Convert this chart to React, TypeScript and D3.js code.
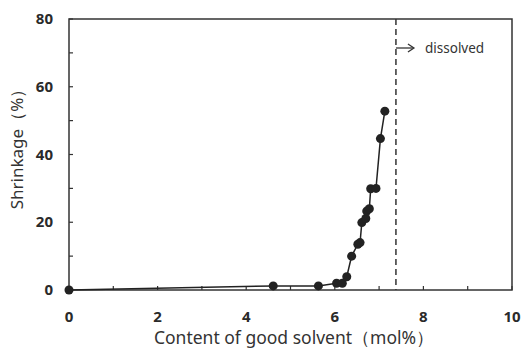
import React from 'react';
import * as d3 from 'd3';

// measured points (content mol%, shrinkage %)
const xValues = [0, 4.61, 5.63, 6.04, 6.17, 6.27, 6.38, 6.52, 6.57, 6.61, 6.7, 6.72, 6.78, 6.81, 6.93, 7.03, 7.13];
const yValues = [0, 1.2, 1.2, 2, 2, 3.9, 10, 13.5, 14, 19.9, 21.1, 23.3, 24, 29.9, 30, 44.7, 52.8];
const xTicks = [0, 1, 2, 3, 4, 5, 6, 7, 8, 9, 10];
const xLabels = [0, 2, 4, 6, 8, 10];
const yTicks = [0, 10, 20, 30, 40, 50, 60, 70, 80];
const yLabels = [0, 20, 40, 60, 80];
const dissolvedAt = 7.38;

export default function App() {
    const width = 527;
    const height = 351;
    const margin = { top: 19, right: 15, bottom: 61, left: 69 };

    const x = d3.scaleLinear().domain([0, 10]).range([margin.left, width - margin.right]);
    const y = d3.scaleLinear().domain([0, 80]).range([height - margin.bottom, margin.top]);

    const pts = xValues.map((v, i) => [v, yValues[i]] as [number, number]);
    const line = d3.line<[number, number]>().x(d => x(d[0])).y(d => y(d[1]));

    const ink = '#222';
    const font = "'Noto Sans', 'DejaVu Sans', sans-serif";

    return (
        <svg width={width} height={height} style={{ position: 'absolute', left: 0, top: 0, background: '#fff' }}>
            {/* frame */}
            <rect x={x(0)} y={y(80)} width={x(10) - x(0)} height={y(0) - y(80)} fill="none" stroke="#333" strokeWidth={1.5} />

            {/* ticks, inward */}
            {xTicks.map(t => (
                <line key={'xt' + t} x1={x(t)} x2={x(t)} y1={y(0)} y2={y(0) - 4} stroke="#333" strokeWidth={1.2} />
            ))}
            {yTicks.map(t => (
                <line key={'yt' + t} x1={x(0)} x2={x(0) + 4} y1={y(t)} y2={y(t)} stroke="#333" strokeWidth={1.2} />
            ))}

            {/* tick labels */}
            {xLabels.map(t => (
                <text key={'xl' + t} x={x(t)} y={y(0) + 32} textAnchor="middle" fontFamily={font} fontWeight="bold" fontSize={15} fill="#2a2a2a">{t}</text>
            ))}
            {yLabels.map(t => (
                <text key={'yl' + t} x={x(0) - 16} y={y(t) + 5} textAnchor="end" fontFamily={font} fontWeight="bold" fontSize={15} fill="#2a2a2a">{t}</text>
            ))}

            {/* axis titles */}
            <text x={294} y={344} textAnchor="middle" fontFamily={font} fontSize={17.5} fill="#333">Content of good solvent（mol%）</text>
            <text transform={`translate(23,${145}) rotate(-90)`} textAnchor="middle" fontFamily={font} fontSize={17} fill="#333">Shrinkage（%）</text>

            {/* dissolved boundary */}
            <line x1={x(dissolvedAt)} x2={x(dissolvedAt)} y1={y(80)} y2={y(0)} stroke="#333" strokeWidth={1.5} strokeDasharray="6,4" />
            <line x1={x(dissolvedAt)} x2={x(dissolvedAt) + 17} y1={48} y2={48} stroke="#333" strokeWidth={1.3} />
            <path d={`M${x(dissolvedAt) + 12},44 L${x(dissolvedAt) + 18},48 L${x(dissolvedAt) + 12},52`} fill="none" stroke="#333" strokeWidth={1.3} />
            <text x={425} y={53} fontFamily={font} fontSize={13.5} fill="#333">dissolved</text>

            {/* data */}
            <path d={line(pts) || ''} fill="none" stroke={ink} strokeWidth={1.5} />
            {pts.map((d, i) => (
                <circle key={i} cx={x(d[0])} cy={y(d[1])} r={4.5} fill={ink} />
            ))}
        </svg>
    );
}
